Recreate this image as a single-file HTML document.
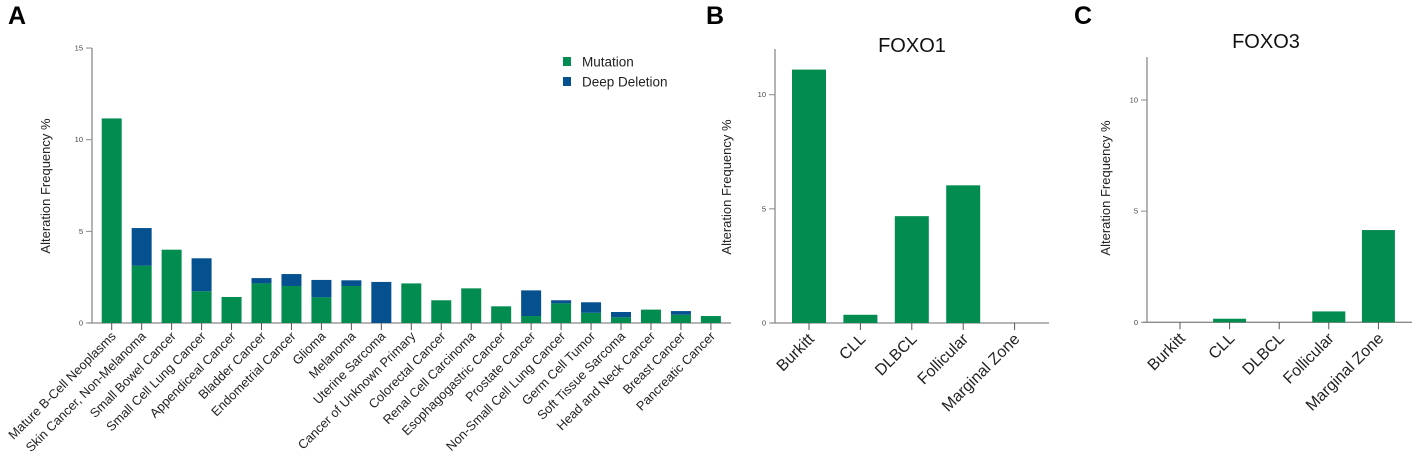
<!DOCTYPE html>
<html><head><meta charset="utf-8"><style>
html,body{margin:0;padding:0;background:#fff;}
svg{display:block;font-family:"Liberation Sans",Arial,sans-serif;}
</style></head><body>
<svg id="fig" width="1417" height="468" viewBox="0 0 1417 468">
<text x="8" y="24" font-size="25" font-weight="bold">A</text>
<text x="706" y="24" font-size="25" font-weight="bold">B</text>
<text x="1074" y="24" font-size="25" font-weight="bold">C</text>
<g id="ga"></g>
<g id="gb"></g>
<g id="gc"></g>
</svg>
<script>
const catsA=["Mature B-Cell Neoplasms","Skin Cancer, Non-Melanoma","Small Bowel Cancer","Small Cell Lung Cancer","Appendiceal Cancer","Bladder Cancer","Endometrial Cancer","Glioma","Melanoma","Uterine Sarcoma","Cancer of Unknown Primary","Colorectal Cancer","Renal Cell Carcinoma","Esophagogastric Cancer","Prostate Cancer","Non-Small Cell Lung Cancer","Germ Cell Tumor","Soft Tissue Sarcoma","Head and Neck Cancer","Breast Cancer","Pancreatic Cancer"];
const mutA=[11.16,3.13,4.0,1.73,1.42,2.16,2.02,1.4,2.02,0,2.16,1.24,1.89,0.91,0.38,1.07,0.56,0.31,0.73,0.45,0.38];
const delA=[0,2.05,0,1.8,0,0.29,0.65,0.95,0.31,2.24,0,0,0,0,1.4,0.17,0.57,0.29,0,0.2,0];
const ticksA=[0,5,10,15];
const catsB=["Burkitt","CLL","DLBCL","Follicular","Marginal Zone"];
const valsB=[11.1,0.36,4.68,6.03,0];
const ticksB=[0,5,10];
const catsC=["Burkitt","CLL","DLBCL","Follicular","Marginal Zone"];
const valsC=[0,0.16,0,0.49,4.15];
const ticksC=[0,5,10];
const GREEN="#038c4f",BLUE="#05508f",AX="#8a8a8a";
const NS="http://www.w3.org/2000/svg";
function mk(parent,tag,attrs){const e=document.createElementNS(NS,tag);for(const k in attrs)e.setAttribute(k,attrs[k]);parent.appendChild(e);return e;}

function panel(g,cfg){
  const y=v=>cfg.y0-v*cfg.ppu;
  const x=i=>cfg.x0+i*cfg.step;
  let l=mk(g,'line',{x1:cfg.ax,y1:cfg.top,x2:cfg.ax,y2:cfg.y0,stroke:AX,'stroke-width':1.3});
  
  
  l=mk(g,'line',{x1:cfg.ax-4,y1:cfg.y0,x2:cfg.right,y2:cfg.y0,stroke:AX,'stroke-width':1.3});
  
  
  cfg.ticks.forEach(t=>{
    const tl=mk(g,'line',{x1:cfg.ax-6,y1:y(t),x2:cfg.ax,y2:y(t),stroke:AX,'stroke-width':1});
    
    
    const tx=mk(g,'text',{x:cfg.ax-9,y:y(t)+2.5,'font-size':7.5,'text-anchor':'end',fill:'#444'});
    tx.textContent=t;
    
    
  });
  const yt=mk(g,'text',{x:0,y:0,'font-size':13,'text-anchor':'middle',fill:'#222',transform:`translate(${cfg.titleX},${cfg.titleY}) rotate(-90)`});
  yt.textContent="Alteration Frequency %";
  
  
  cfg.cats.forEach((c,i)=>{
    const xx=x(i);
    const tk=mk(g,'line',{x1:xx,y1:cfg.y0,x2:xx,y2:cfg.y0+7,stroke:'#555','stroke-width':1});
    
    
    const m=cfg.mut[i];
    if(m>0){const r=mk(g,'rect',{x:xx-cfg.bw/2,y:y(m),width:cfg.bw,height:m*cfg.ppu,fill:GREEN});
      
      }
    const d=cfg.del?cfg.del[i]:0;
    if(d>0){const r=mk(g,'rect',{x:xx-cfg.bw/2,y:y(m+d),width:cfg.bw,height:d*cfg.ppu,fill:BLUE});
      
      }
    const lx=xx+cfg.lo, ly=cfg.y0+cfg.ld;
    const lt=mk(g,'text',{x:0,y:0,'font-size':cfg.lf,'text-anchor':'end',fill:'#222',transform:`translate(${lx},${ly}) rotate(-45)`});
    lt.textContent=c;
    
    
  });
}
panel(document.getElementById('ga'),{cats:catsA,mut:mutA,del:delA,ticks:ticksA,ax:92,top:48,y0:323,ppu:18.33,x0:111.7,step:29.96,bw:20,right:731,titleX:50,titleY:186,lo:5,ld:14,lf:12.8});
panel(document.getElementById('gb'),{cats:catsB,mut:valsB,ticks:ticksB,ax:775,top:49,y0:323,ppu:22.83,x0:809,step:51.4,bw:34,right:1049,titleX:731,titleY:187,lo:6,ld:17,lf:16});
panel(document.getElementById('gc'),{cats:catsC,mut:valsC,ticks:ticksC,ax:1147,top:57,y0:322.3,ppu:22.23,x0:1180,step:49.6,bw:33,right:1412,titleX:1110,titleY:188,lo:6,ld:17,lf:16});

const ga=document.getElementById('ga');
const legend=[["Mutation",GREEN,62],["Deep Deletion",BLUE,82]];
legend.forEach(([lab,col,yy])=>{
  const r=mk(ga,'rect',{x:563,y:yy-5,width:8,height:9,fill:col});
  
  
  const t=mk(ga,'text',{x:582,y:yy+4.5,'font-size':13.5,fill:'#222'});
  t.textContent=lab;
  
  
});
const tb=mk(document.getElementById('gb'),'text',{x:912,y:52,'font-size':20,'text-anchor':'middle',fill:'#111'});
tb.textContent="FOXO1";


const tc=mk(document.getElementById('gc'),'text',{x:1266,y:48,'font-size':20,'text-anchor':'middle',fill:'#111'});
tc.textContent="FOXO3";


</script>
</body></html>
